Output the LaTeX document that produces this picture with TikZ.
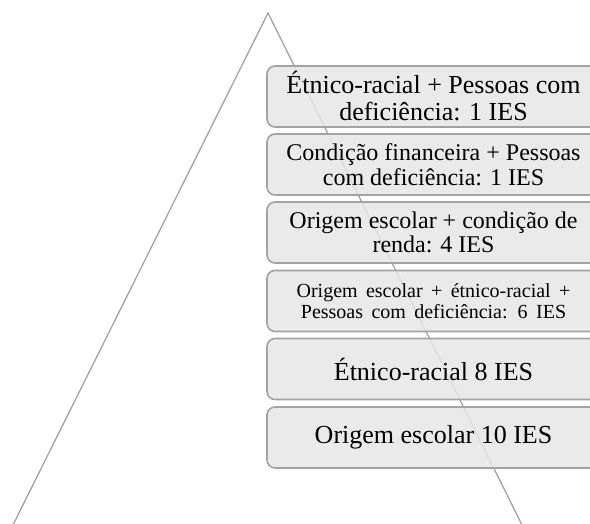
\documentclass[tikz,border=0pt]{standalone}
\usepackage{fontspec}
\setmainfont{Liberation Serif}
\definecolor{bordo}{HTML}{A3A3A3}
\definecolor{sfondo}{HTML}{E6E6E6}
\newcommand{\spaziolargo}{\spaceskip=0.42em\relax}
\begin{document}
\begin{tikzpicture}[x=1pt,y=-1pt,
    livello/.style={draw=bordo, line width=1.6pt, fill=sfondo, fill opacity=0.85, text opacity=1,
        rounded corners=8pt, minimum width=333pt, minimum height=61pt, align=center, inner sep=0pt},
    lato/.style={draw=bordo, line width=1.3pt}]
        \useasboundingbox (0,0) rectangle (590,523);
        \clip (0,0) rectangle (590,523);

        % Piramide
        \coordinate (apice) at (268,13);
        \coordinate (sx) at (12,527);
        \coordinate (dx) at (523,527);
        \draw[lato] (sx) -- (apice) -- (dx);

        % Livelli
        \node[livello, font=\fontsize{26}{27}\selectfont] (etnicopcd) at (433.5,96.5) {Étnico-racial + Pessoas com\\deficiência: 1 IES};
        \node[livello, font=\fontsize{24}{24.5}\selectfont] (rendapcd) at (433.5,164.5) {Condição financeira + Pessoas\\com deficiência: 1 IES};
        \node[livello, font=\fontsize{24}{24.5}\selectfont] (escolarenda) at (433.5,232.5) {Origem escolar + condição de\\renda: 4 IES};
        \node[livello, font=\fontsize{20}{20.5}\selectfont\spaziolargo] (tripla) at (433.5,301) {Origem escolar + étnico-racial +\\Pessoas com deficiência: 6 IES};
        \node[livello, font=\fontsize{26}{27}\selectfont] (etnico) at (433.5,369) {Étnico-racial 8 IES};
        \node[livello, font=\fontsize{26}{27}\selectfont] (escolar) at (433.5,437.5) {Origem escolar 10 IES};
    \end{tikzpicture}
\end{document}
